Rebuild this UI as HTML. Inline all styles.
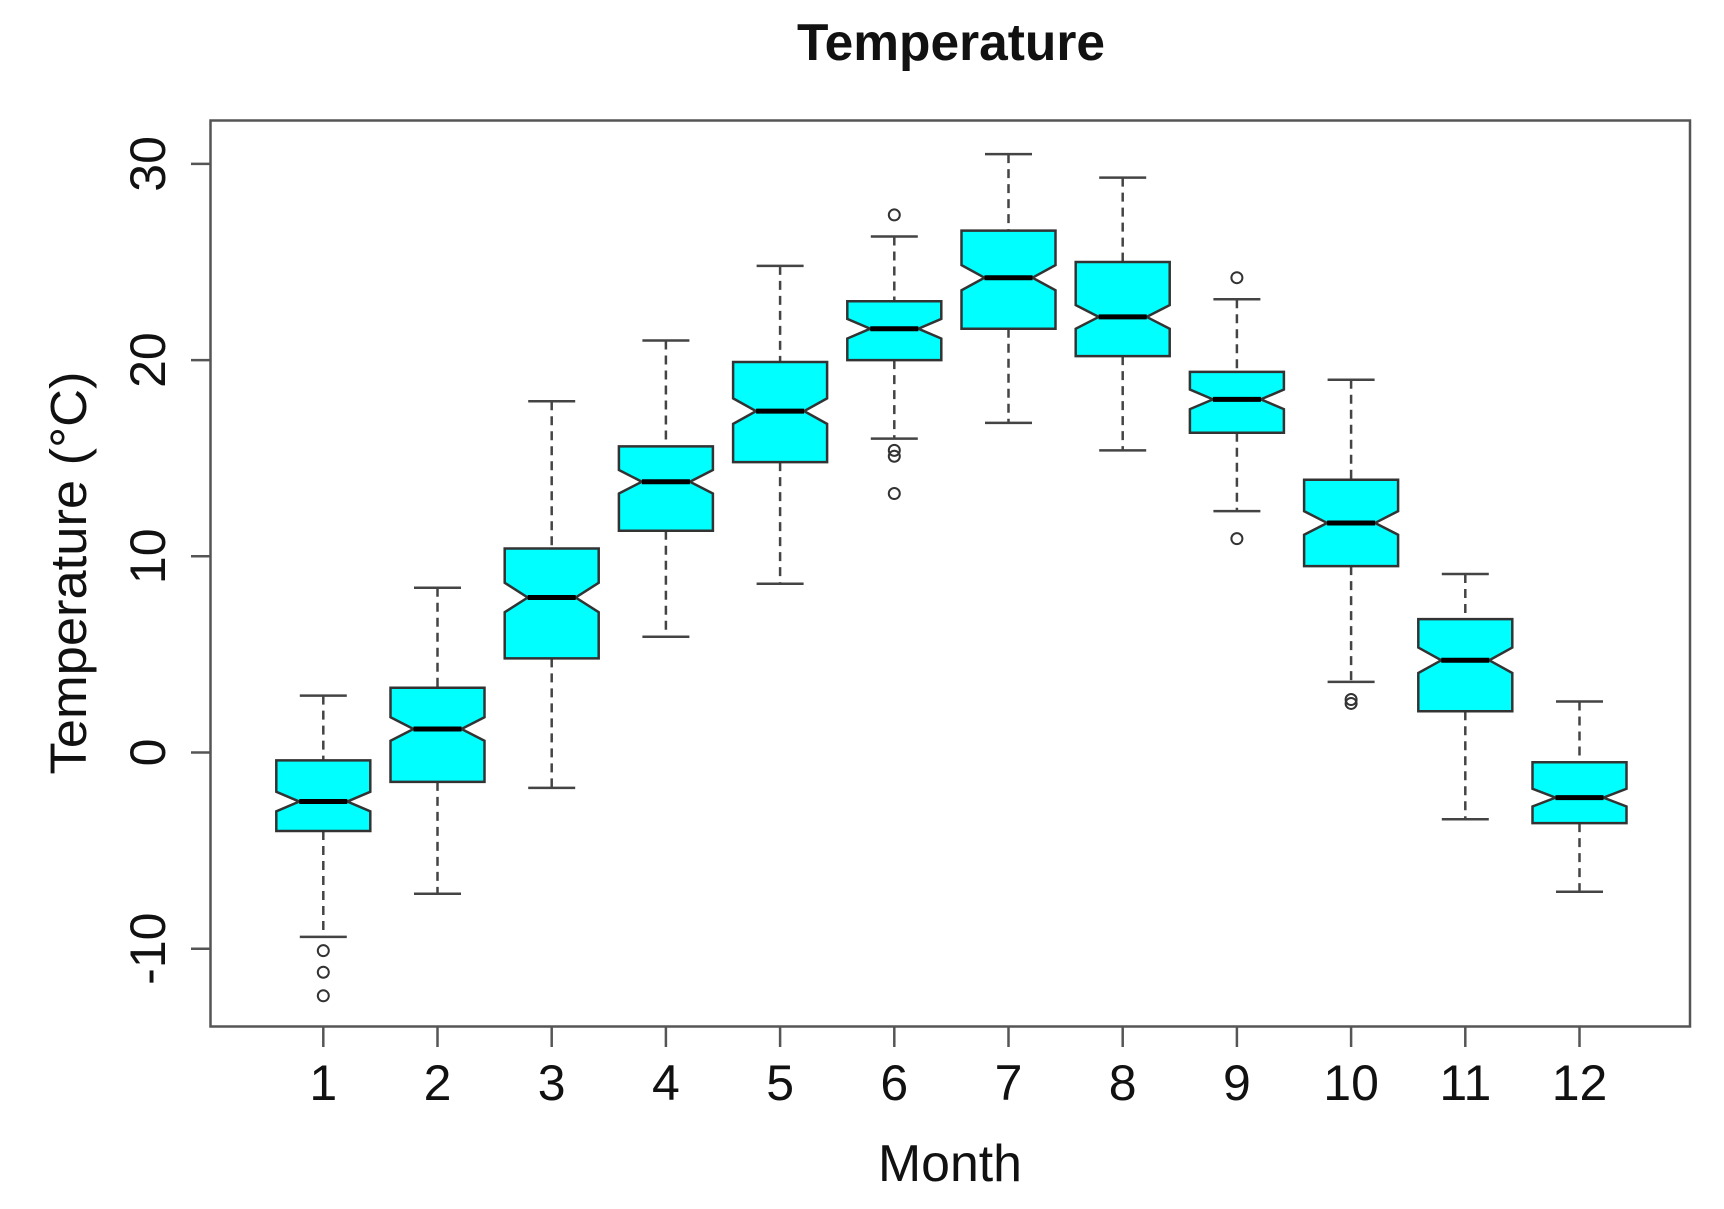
<!DOCTYPE html>
<html><head><meta charset="utf-8"><title>Temperature</title>
<style>html,body{margin:0;padding:0;background:#fff}svg{display:block}text{font-family:"Liberation Sans",Arial,sans-serif;fill:#111}</style>
</head><body>
<svg id="chart" width="1724" height="1209" viewBox="0 0 1724 1209" xmlns="http://www.w3.org/2000/svg">
<text x="951" y="60" text-anchor="middle" font-weight="bold" font-size="52" textLength="308" lengthAdjust="spacingAndGlyphs">Temperature</text>
<text transform="translate(86,573) rotate(-90)" text-anchor="middle" font-size="51" textLength="403" lengthAdjust="spacingAndGlyphs">Temperature (°C)</text>
<text x="950" y="1181" text-anchor="middle" font-size="52" textLength="144" lengthAdjust="spacingAndGlyphs">Month</text>
<rect x="210.5" y="120.5" width="1479.5" height="906" fill="none" stroke="#555" stroke-width="2.5"/>
<g id="marks"></g>
</svg>
<script>
const months = [1,2,3,4,5,6,7,8,9,10,11,12];
const whiskerHigh = [2.9,8.4,17.9,21.0,24.8,26.3,30.5,29.3,23.1,19.0,9.1,2.6];
const q3 = [-0.4,3.3,10.4,15.6,19.9,23.0,26.6,25.0,19.4,13.9,6.8,-0.5];
const medians = [-2.5,1.2,7.9,13.8,17.4,21.6,24.2,22.2,18.0,11.7,4.7,-2.3];
const q1 = [-4.0,-1.5,4.8,11.3,14.8,20.0,21.6,20.2,16.3,9.5,2.1,-3.6];
const whiskerLow = [-9.4,-7.2,-1.8,5.9,8.6,16.0,16.8,15.4,12.3,3.6,-3.4,-7.1];
const notchHalf = [0.5,0.6,0.75,0.6,0.65,0.5,0.64,0.6,0.5,0.6,0.65,0.45];
const outlierMonth = [1,1,1,6,6,6,6,9,9,10,10];
const outlierValue = [-10.1,-11.2,-12.4,27.4,15.4,15.1,13.2,24.2,10.9,2.7,2.5];
const yTicks = [-10,0,10,20,30];
const yTickLabels = ["-10","0","10","20","30"];

const NS = "http://www.w3.org/2000/svg";
function yScale(v){ return 752.5 - v*19.62; }
function xScale(m){ return 323.3 + (m-1)*114.2; }
const g = document.getElementById('marks');
function mk(tag, attrs){ const e=document.createElementNS(NS,tag); for(const k in attrs) e.setAttribute(k,attrs[k]); g.appendChild(e); return e; }

yTicks.forEach((t,i)=>{
  const y=yScale(t);
  const tk=mk('line',{x1:191,x2:210,y1:y,y2:y,stroke:'#555','stroke-width':2.5});
  
  
  const lb=mk('text',{transform:`translate(165,${y}) rotate(-90)`,'text-anchor':'middle','font-size':50});
  lb.textContent=yTickLabels[i];
  
  
});
months.forEach((m,i)=>{
  const x=xScale(m);
  const tk=mk('line',{x1:x,x2:x,y1:1027,y2:1047,stroke:'#555','stroke-width':2.5});
  
  
  const lb=mk('text',{x:x,y:1100,'text-anchor':'middle','font-size':50});
  lb.textContent=String(m);
  
  

  const hw=47, iw=24, cw=23.5;
  const yh=yScale(whiskerHigh[i]), y3=yScale(q3[i]), ym=yScale(medians[i]), y1=yScale(q1[i]), yl=yScale(whiskerLow[i]);
  const nt=yScale(medians[i]+notchHalf[i]), nb=yScale(medians[i]-notchHalf[i]);
  const w1=mk('line',{x1:x,x2:x,y1:yh,y2:y3,stroke:'#444','stroke-width':2.5,'stroke-dasharray':'9,6'});
  
  
  const w2=mk('line',{x1:x,x2:x,y1:y1,y2:yl,stroke:'#444','stroke-width':2.5,'stroke-dasharray':'9,6'});
  
  
  const c1=mk('line',{x1:x-cw,x2:x+cw,y1:yh,y2:yh,stroke:'#444','stroke-width':2.5});
  
  
  const c2=mk('line',{x1:x-cw,x2:x+cw,y1:yl,y2:yl,stroke:'#444','stroke-width':2.5});
  
  
  const pts=[[x-hw,y3],[x+hw,y3],[x+hw,nt],[x+iw,ym],[x+hw,nb],[x+hw,y1],[x-hw,y1],[x-hw,nb],[x-iw,ym],[x-hw,nt]];
  const box=mk('polygon',{points:pts.map(p=>p.join(',')).join(' '),fill:'#00ffff',stroke:'#333','stroke-width':2.5});
  
  
  const md=mk('line',{x1:x-iw,x2:x+iw,y1:ym,y2:ym,stroke:'#000','stroke-width':5});
  
  
});
outlierMonth.forEach((m,i)=>{
  const o=mk('circle',{cx:xScale(m),cy:yScale(outlierValue[i]),r:5.5,fill:'none',stroke:'#333','stroke-width':2});
  
  
});
</script>
</body></html>
